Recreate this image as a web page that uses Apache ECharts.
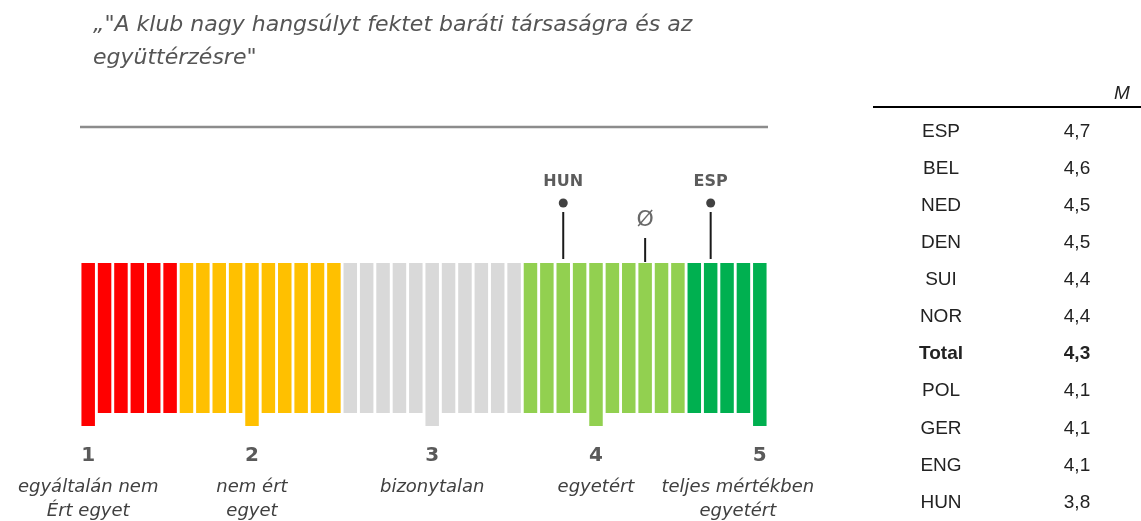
<!DOCTYPE html>
<html>
<head>
<meta charset="utf-8">
<script src="https://cdn.jsdelivr.net/npm/echarts@6/dist/echarts.min.js"></script>
<style>
  html, body { margin: 0; padding: 0; background: #fff; }
  #chart { width: 1141px; height: 521px; }
</style>
</head>
<body>
<div id="chart"></div>
<script>
// scale: 42 bars in 5 colour groups, the long bars mark the answers 1..5
const groupSizes = [6, 10, 11, 10, 5]
const longBarIdx = [0, 10, 21, 31, 41]
const scaleLabels = ['1', '2', '3', '4', '5']
const scaleDescriptions = [
  'egyáltalán nem\nÉrt egyet',
  'nem ért\negyet',
  'bizonytalan',
  'egyetért',
  'teljes mértékben\negyetért'
]

// table on the right
const countries = ['ESP', 'BEL', 'NED', 'DEN', 'SUI', 'NOR', 'Total', 'POL', 'GER', 'ENG', 'HUN']
const means = [4.7, 4.6, 4.5, 4.5, 4.4, 4.4, 4.3, 4.1, 4.1, 4.1, 3.8]

// markers above the scale
const markers = [
  { key: 'HUN', label: 'HUN', dot: true },
  { key: 'Total', label: 'Ø', dot: false },
  { key: 'ESP', label: 'ESP', dot: true }
]

const groupColors = ['#ff0000', '#ffc000', '#d9d9d9', '#92d050', '#00b050']
const scaleFont = 'DejaVu Sans'
const tableFont = 'Liberation Sans'

// y units of the scale grid are pixels measured down from its top
const barTop = 93
const shortLen = 150
const longLen = 163

const barIdx = []
const barColor = []
groupSizes.forEach((n, g) => {
  for (let i = 0; i < n; i++) {
    barIdx.push(String(barIdx.length))
    barColor.push(groupColors[g])
  }
})

function scaleIndex(v) {
  const k = Math.min(Math.floor(v), 4)
  const i0 = longBarIdx[k - 1]
  const i1 = longBarIdx[k]
  return Math.round(i0 + (v - k) * (i1 - i0))
}

const baseData = barIdx.map(() => barTop)
const barData = barIdx.map((d, i) => ({
  value: longBarIdx.includes(i) ? longLen : shortLen,
  itemStyle: { color: barColor[i] }
}))

const markerPts = markers.map(m => {
  const v = means[countries.indexOf(m.key)]
  return { m, idx: scaleIndex(v) }
})

const chart = echarts.init(document.getElementById('chart'))

chart.setOption({
  animation: false,
  backgroundColor: '#fff',
  title: {
    text: '„"A klub nagy hangsúlyt fektet baráti társaságra és az\negyüttérzésre"',
    left: 88,
    top: 4,
    textStyle: {
      fontFamily: scaleFont,
      fontStyle: 'italic',
      fontWeight: 'normal',
      fontSize: 22,
      lineHeight: 33,
      color: '#555'
    }
  },
  graphic: [
    { type: 'line', shape: { x1: 80, y1: 127, x2: 768, y2: 127 }, style: { stroke: '#8c8c8c', lineWidth: 2.5 } },
    { type: 'line', shape: { x1: 873, y1: 107, x2: 1141, y2: 107 }, style: { stroke: '#000', lineWidth: 2 } },
    {
      type: 'text', x: 1122, y: 94,
      style: {
        text: 'M', fontFamily: tableFont, fontStyle: 'italic', fontSize: 19,
        fill: '#222', align: 'center', verticalAlign: 'middle'
      }
    }
  ],
  grid: [
    { left: 80, width: 688, top: 170, height: 257 },
    { left: 873, right: 0, top: 113, height: 416 }
  ],
  xAxis: [
    {
      gridIndex: 0,
      type: 'category',
      data: barIdx,
      axisLine: { show: false },
      axisTick: { show: false },
      axisLabel: {
        interval: (i) => longBarIdx.includes(i),
        margin: 10,
        formatter: (v, i) => {
          const k = longBarIdx.indexOf(Number(v))
          const sty = k === 4 ? 'd5' : 'd'
          const lines = scaleDescriptions[k].split('\n').map(t => '{' + sty + '|' + t + '}')
          return '{n|' + scaleLabels[k] + '}\n' + lines.join('\n')
        },
        rich: {
          n: { fontFamily: scaleFont, fontWeight: 'bold', fontSize: 20, lineHeight: 38, color: '#5a5a5a' },
          d: { fontFamily: scaleFont, fontStyle: 'italic', fontSize: 18, lineHeight: 24, color: '#404040' },
          d5: { fontFamily: scaleFont, fontStyle: 'italic', fontSize: 18, lineHeight: 24, color: '#404040', padding: [0, 44, 0, 0] }
        }
      }
    },
    { gridIndex: 1, type: 'value', min: 0, max: 1, show: false }
  ],
  yAxis: [
    { gridIndex: 0, type: 'value', inverse: true, min: 0, max: 257, show: false },
    {
      gridIndex: 1,
      type: 'category',
      inverse: true,
      position: 'left',
      data: countries,
      axisLine: { show: false },
      axisTick: { show: false },
      axisLabel: {
        margin: -68,
        align: 'center',
        fontFamily: tableFont,
        fontSize: 19,
        color: '#222',
        formatter: v => v === 'Total' ? '{b|' + v + '}' : v,
        rich: { b: { fontFamily: tableFont, fontSize: 19, fontWeight: 'bold', color: '#222' } }
      }
    },
    {
      gridIndex: 1,
      type: 'category',
      inverse: true,
      position: 'right',
      data: countries,
      axisLine: { show: false },
      axisTick: { show: false },
      axisLabel: {
        margin: -64,
        align: 'center',
        fontFamily: tableFont,
        fontSize: 19,
        color: '#222',
        formatter: (v, i) => {
          const t = means[i].toFixed(1).replace('.', ',')
          return v === 'Total' ? '{b|' + t + '}' : t
        },
        rich: { b: { fontFamily: tableFont, fontSize: 19, fontWeight: 'bold', color: '#222' } }
      }
    }
  ],
  series: [
    {
      type: 'bar', xAxisIndex: 0, yAxisIndex: 0, stack: 'scale',
      barWidth: 13.5, silent: true,
      itemStyle: { color: 'rgba(0,0,0,0)' },
      data: baseData
    },
    {
      type: 'bar', xAxisIndex: 0, yAxisIndex: 0, stack: 'scale',
      barWidth: 13.5,
      data: barData
    },
    {
      type: 'custom', xAxisIndex: 0, yAxisIndex: 0,
      encode: { x: 0, y: [1, 2] },
      data: markerPts.map(p => p.m.dot ? [p.idx, 42, 89] : [p.idx, 68, 92]),
      renderItem: (params, api) => {
        const a = api.coord([api.value(0), api.value(1)])
        const b = api.coord([api.value(0), api.value(2)])
        return {
          type: 'line',
          shape: { x1: a[0], y1: a[1], x2: b[0], y2: b[1] },
          style: { stroke: '#1a1a1a', lineWidth: 2 }
        }
      }
    },
    {
      type: 'scatter', xAxisIndex: 0, yAxisIndex: 0,
      symbolSize: 9,
      itemStyle: { color: '#111' },
      label: {
        show: true, position: 'top', distance: 9,
        formatter: p => p.data.name,
        fontFamily: scaleFont, fontSize: 16, fontWeight: 'bold', color: '#333'
      },
      data: markerPts.filter(p => p.m.dot).map(p => ({ name: p.m.label, value: [p.idx, 33] }))
    },
    {
      type: 'scatter', xAxisIndex: 0, yAxisIndex: 0,
      symbolSize: 1,
      itemStyle: { color: 'rgba(0,0,0,0)' },
      label: {
        show: true, position: 'inside',
        formatter: p => p.data.name,
        fontFamily: scaleFont, fontSize: 22, color: '#444'
      },
      data: markerPts.filter(p => !p.m.dot).map(p => ({ name: p.m.label, value: [p.idx, 50] }))
    }
  ]
})
</script>
</body>
</html>
